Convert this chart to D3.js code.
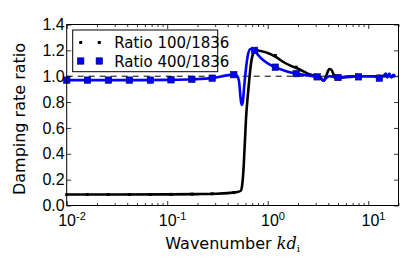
<!DOCTYPE html>
<html>
<head>
<meta charset="utf-8">
<script src="https://cdn.jsdelivr.net/npm/d3@7"></script>
<style>
  body { margin: 0; background: #fff; }
  svg { display: block; font-family: "DejaVu Sans", sans-serif; }
</style>
</head>
<body>
<svg id="chart" width="415" height="277"></svg>
<script>
// Curve: wavenumber k d_i and damping rate ratio
const blackK = [0.01, 0.03, 0.1, 0.2, 0.3, 0.4, 0.5, 0.54, 0.555, 0.573, 0.594, 0.61, 0.637, 0.66, 0.69, 0.72, 0.76, 0.85, 1.0, 1.2, 1.43, 1.7, 2.1, 2.5, 3.0, 3.3, 3.6, 3.8, 4.1, 4.3, 4.6, 4.9, 5.5, 7, 12, 18.5];
const blackV = [0.085, 0.085, 0.086, 0.088, 0.091, 0.096, 0.104, 0.115, 0.15, 0.27, 0.51, 0.69, 0.87, 1.0, 1.125, 1.18, 1.2, 1.195, 1.18, 1.15, 1.11, 1.08, 1.05, 1.02, 1.0, 0.99, 0.965, 1.0, 1.055, 1.05, 1.0, 0.98, 0.99, 1.0, 1.0, 1.0];

const blueK = [0.01, 0.05, 0.11, 0.176, 0.28, 0.46, 0.5, 0.52, 0.535, 0.55, 0.565, 0.58, 0.6, 0.63, 0.67, 0.7, 0.74, 0.8, 0.9, 1.0, 1.19, 1.5, 1.92, 2.5, 3.1, 3.4, 3.6, 3.8, 4.1, 4.5, 5.0, 6.5, 8, 11, 12.9, 14, 15, 15.5, 16.2, 17, 17.8, 18.5];
const blueV = [0.97, 0.97, 0.972, 0.976, 0.985, 1.012, 1.0, 0.95, 0.84, 0.778, 0.8, 0.9, 1.02, 1.15, 1.21, 1.21, 1.2, 1.165, 1.125, 1.1, 1.07, 1.04, 1.02, 1.005, 0.995, 0.985, 0.965, 0.985, 1.0, 0.995, 0.99, 0.995, 1.0, 1.0, 0.99, 1.0, 1.02, 0.99, 1.02, 0.99, 1.01, 1.0];

// marker positions
const markK = [0.01, 0.0161, 0.026, 0.042, 0.068, 0.109, 0.176, 0.28, 0.46, 0.74, 1.19, 1.92, 3.1, 5.0, 8.0, 12.9];
const blackMarkV = [0.085, 0.085, 0.085, 0.085, 0.085, 0.086, 0.088, 0.091, 0.1, 1.19, 1.16, 1.07, 1.0, 0.985, 1.0, 1.0];
const blueMarkV = [0.97, 0.97, 0.97, 0.97, 0.97, 0.972, 0.976, 0.985, 1.012, 1.2, 1.07, 1.02, 0.995, 0.99, 0.995, 0.985];

const seriesNames = ["Ratio 100/1836", "Ratio 400/1836"];
const xMajor = [0.01, 0.1, 1, 10];
const xExp = ["-2", "-1", "0", "1"];
const yTicks = [0, 0.2, 0.4, 0.6, 0.8, 1.0, 1.2, 1.4];

const margin = { top: 24.5, right: 16.5, bottom: 71.5, left: 66.7 };
const width = 415 - margin.left - margin.right;
const height = 277 - margin.top - margin.bottom;

const x = d3.scaleLog().domain([0.01, 20]).range([0, width]);
const y = d3.scaleLinear().domain([0, 1.4]).range([height, 0]);

const svg = d3.select("#chart");
const g = svg.append("g").attr("transform", `translate(${margin.left},${margin.top})`);

// minor ticks
const xMinor = [];
[0.01, 0.1, 1, 10].forEach((d) => {
  for (let i = 2; i <= 9; i++) if (d * i <= 20) xMinor.push(d * i);
});

// reference line at 1
g.append("line")
  .attr("x1", 0).attr("x2", width)
  .attr("y1", y(1)).attr("y2", y(1))
  .attr("stroke", "#000").attr("stroke-width", 1)
  .attr("stroke-dasharray", "6,5");

const line = d3.line()
  .x((d) => x(d[0]))
  .y((d) => y(d[1]))
  .curve(d3.curveMonotoneX);

g.append("path")
  .datum(blackK.map((k, i) => [k, blackV[i]]))
  .attr("d", line)
  .attr("fill", "none").attr("stroke", "#000").attr("stroke-width", 2.6);

g.selectAll(".bm")
  .data(markK.map((k, i) => [k, blackMarkV[i]]))
  .join("rect")
  .attr("class", "bm")
  .attr("x", (d) => x(d[0]) - 1.5).attr("y", (d) => y(d[1]) - 1.5)
  .attr("width", 3).attr("height", 3).attr("fill", "#000");

g.append("path")
  .datum(blueK.map((k, i) => [k, blueV[i]]))
  .attr("d", line)
  .attr("fill", "none").attr("stroke", "#0000ff").attr("stroke-width", 2.6);

g.selectAll(".um")
  .data(markK.map((k, i) => [k, blueMarkV[i]]))
  .join("rect")
  .attr("class", "um")
  .attr("x", (d) => x(d[0]) - 3.2).attr("y", (d) => y(d[1]) - 3.2)
  .attr("width", 6.4).attr("height", 6.4)
  .attr("fill", "#0000ff").attr("stroke", "#000044").attr("stroke-width", 0.6);

// axes
function styleAxis(sel) {
  sel.select(".domain").remove();
  sel.selectAll("line").attr("stroke", "#000").attr("stroke-width", 0.8);
}

const xb = g.append("g").attr("transform", `translate(0,${height})`)
  .call(d3.axisBottom(x).tickValues(xMajor).tickSize(-4.5).tickPadding(9).tickFormat(() => "10"));
g.append("g").attr("transform", `translate(0,${height})`)
  .call(d3.axisBottom(x).tickValues(xMinor).tickSize(-2.5).tickFormat(""))
  .call(styleAxis);
g.append("g")
  .call(d3.axisTop(x).tickValues(xMajor).tickSize(-4.5).tickFormat(""))
  .call(styleAxis);
g.append("g")
  .call(d3.axisTop(x).tickValues(xMinor).tickSize(-2.5).tickFormat(""))
  .call(styleAxis);
xb.call(styleAxis);
xb.selectAll("text")
  .attr("font-size", 16).attr("fill", "#000")
  .each(function (d, i) {
    d3.select(this).append("tspan")
      .attr("dy", "-0.55em").attr("font-size", 11)
      .text(xExp[i]);
  })
  .attr("dx", "0.3em");

const yl = g.append("g")
  .call(d3.axisLeft(y).tickValues(yTicks).tickSize(-4.5).tickPadding(2).tickFormat(d3.format(".1f")))
  .call(styleAxis);
yl.selectAll("text").attr("font-size", 16).attr("fill", "#000");
g.append("g").attr("transform", `translate(${width},0)`)
  .call(d3.axisRight(y).tickValues(yTicks).tickSize(-4.5).tickFormat(""))
  .call(styleAxis);

// frame
g.append("rect")
  .attr("width", width).attr("height", height)
  .attr("fill", "none").attr("stroke", "#000").attr("stroke-width", 1);

// axis labels
svg.append("text")
  .attr("transform", `translate(25,${margin.top + height / 2 + 4}) rotate(-90)`)
  .attr("text-anchor", "middle")
  .attr("font-size", 16)
  .text("Damping rate ratio");

const xt = svg.append("text")
  .attr("x", margin.left + width / 2).attr("y", 249)
  .attr("text-anchor", "middle")
  .attr("font-size", 16)
  .text("Wavenumber ");
xt.append("tspan")
  .attr("font-family", "'DejaVu Serif', serif").attr("font-style", "italic")
  .text("kd");
xt.append("tspan")
  .attr("font-family", "'DejaVu Serif', serif").attr("font-size", 10)
  .attr("dy", "0.3em")
  .text("i");

// legend
const lg = svg.append("g").attr("transform", "translate(72.7,30)");
lg.append("rect")
  .attr("width", 145).attr("height", 41.7)
  .attr("fill", "#fff").attr("stroke", "#000").attr("stroke-width", 1);
const rows = lg.selectAll(".row")
  .data(seriesNames)
  .join("g")
  .attr("transform", (d, i) => `translate(0,${12.5 + i * 18.5})`);
rows.each(function (d, i) {
  const r = d3.select(this);
  [8, 26.6].forEach((mx) => {
    if (i === 0) {
      r.append("rect").attr("x", mx - 1.5).attr("y", -1.5).attr("width", 3).attr("height", 3).attr("fill", "#000");
    } else {
      r.append("rect").attr("x", mx - 3.2).attr("y", -3.2).attr("width", 6.4).attr("height", 6.4)
        .attr("fill", "#0000ff").attr("stroke", "#000044").attr("stroke-width", 0.6);
    }
  });
  r.append("text")
    .attr("x", 41.5).attr("y", 5.5)
    .attr("font-size", 15)
    .text(d);
});
</script>
</body>
</html>
